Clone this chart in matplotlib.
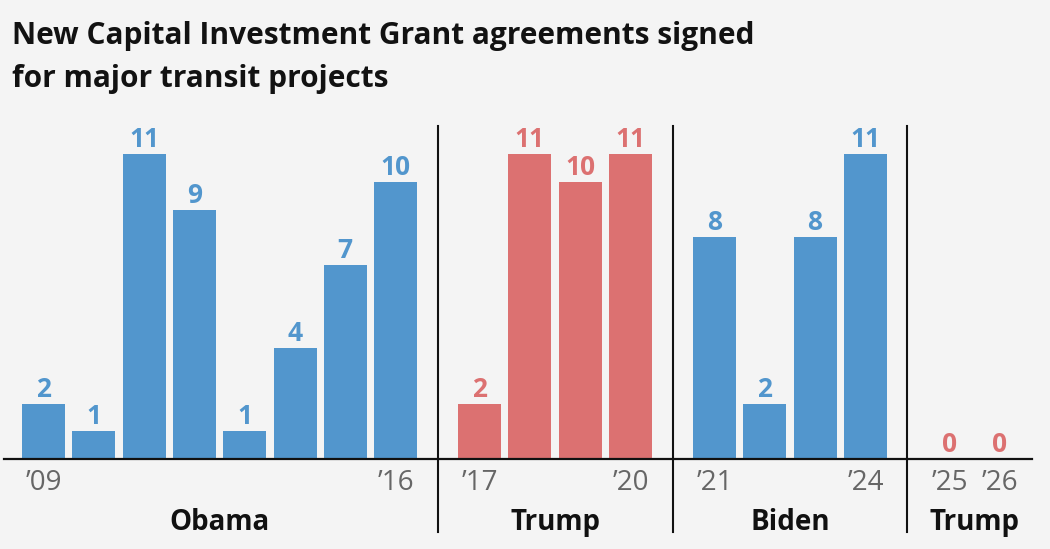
import matplotlib
matplotlib.use("Agg")
import matplotlib.pyplot as plt
import numpy as np

plt.rcParams["font.family"] = ["Open Sans", "DejaVu Sans"]

# --- data ---
years = list(range(2009, 2027))
counts = [2, 1, 11, 9, 1, 4, 7, 10,   # Obama
          2, 11, 10, 11,              # Trump
          8, 2, 8, 11,                # Biden
          0, 0]                       # Trump
admins = ["Obama", "Trump", "Biden", "Trump"]
admin_sizes = [8, 4, 4, 2]
admin_party = ["D", "R", "D", "R"]
labelled_years = [2009, 2016, 2017, 2020, 2021, 2024, 2025, 2026]

BLUE = "#5296cd"
RED = "#dc7171"
BG = "#f4f4f4"
GAP = 0.67  # extra space between administrations, in bar slots

# positions: one slot per year, with an extra gap at each administration change
group_idx = np.repeat(np.arange(len(admins)), admin_sizes)
xpos = np.arange(len(years)) + GAP * group_idx
colors = [BLUE if admin_party[g] == "D" else RED for g in group_idx]

fig = plt.figure(figsize=(10.5, 5.49), dpi=100, facecolor=BG)
ax = fig.add_axes([0, 90 / 549, 1, 333 / 549])
ax.set_facecolor(BG)
ax.set_xlim(-0.865, 20.01)
ax.set_ylim(0, 333 / 27.7)
ax.axis("off")

ax.bar(xpos, counts, width=0.855, color=colors, edgecolor="none")
for x, v, c in zip(xpos, counts, colors):
    ax.annotate(str(v), (x, v), xytext=(0, 5), textcoords="offset points",
                ha="center", va="baseline", fontsize=19, fontweight="bold", color=c)

# baseline
ax.axhline(0, xmin=4 / 1050, xmax=1032 / 1050, color="#111111", lw=1.6, clip_on=False)

# dividers between administrations
ends = np.cumsum(admin_sizes)
for e in ends[:-1]:
    xm = (xpos[e - 1] + xpos[e]) / 2
    ax.axvline(xm, ymin=-(532 - 459) / 333, ymax=1.0, color="#111111", lw=1.5, clip_on=False)

# year labels
trans = ax.get_xaxis_transform()
for yr in labelled_years:
    i = years.index(yr)
    ax.text(xpos[i], -(490 - 459) / 333, "\u2019" + str(yr)[2:], transform=trans,
            ha="center", va="baseline", fontsize=20, color="#666666")

# administration labels
starts = ends - np.array(admin_sizes)
for name, s, e in zip(admins, starts, ends):
    xc = (xpos[s] + xpos[e - 1]) / 2
    ax.text(xc, -(530 - 459) / 333, name, transform=trans,
            ha="center", va="baseline", fontsize=20, fontweight="bold", color="#111111")

fig.text(12 / 1050, 1 - 44 / 549, "New Capital Investment Grant agreements signed",
         ha="left", va="baseline", fontsize=21.5, fontweight="bold", color="#121212")
fig.text(12 / 1050, 1 - 87 / 549, "for major transit projects",
         ha="left", va="baseline", fontsize=21.5, fontweight="bold", color="#121212")

fig.savefig("out.png", dpi=100, facecolor=BG)
